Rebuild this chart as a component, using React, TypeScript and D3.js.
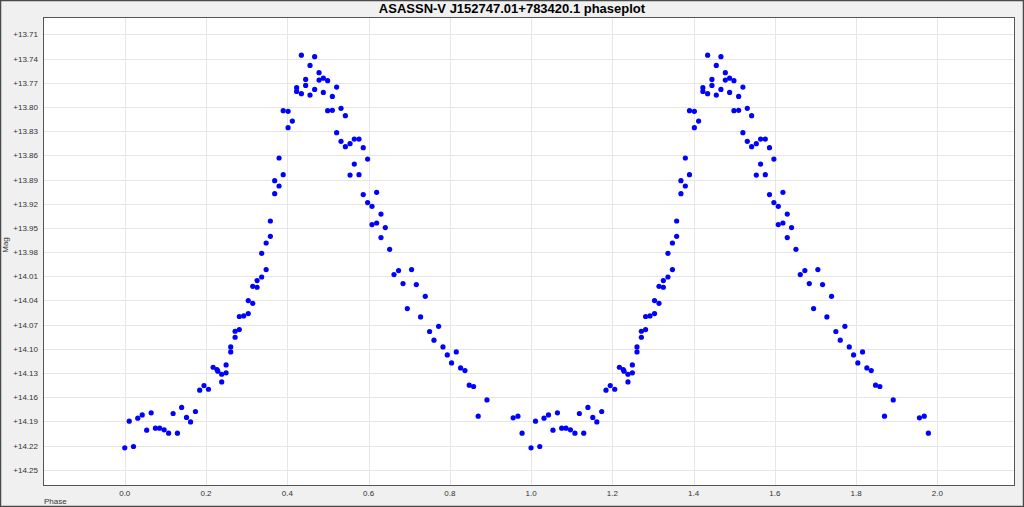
import React from "react";
import * as d3 from "d3";

const TITLE = "ASASSN-V J152747.01+783420.1 phaseplot";
const X_LABEL = "Phase";
const Y_LABEL = "Mag";

// phase in [0,1) of each observation
const phases: number[] = [
  0.0, 0.011, 0.0215, 0.032, 0.043, 0.054, 0.065, 0.0755, 0.086, 0.097,
  0.108, 0.119, 0.1297, 0.14, 0.152, 0.162, 0.174, 0.1845, 0.195, 0.206,
  0.2175, 0.227, 0.229, 0.2386, 0.2386, 0.2494, 0.2494, 0.2608, 0.2608, 0.2716,
  0.2716, 0.282, 0.282, 0.2928, 0.304, 0.304, 0.315, 0.315, 0.3257, 0.3257,
  0.337, 0.337, 0.348, 0.348, 0.3584, 0.3584, 0.369, 0.369, 0.3798, 0.3798,
  0.39, 0.39, 0.402, 0.402, 0.4125, 0.423, 0.423, 0.4347, 0.4347, 0.4453,
  0.4453, 0.456, 0.456, 0.4674, 0.4674, 0.4782, 0.4782, 0.4888, 0.4888, 0.4994,
  0.4994, 0.511, 0.511, 0.5215, 0.5215, 0.5323, 0.5323, 0.543, 0.543, 0.5545,
  0.5545, 0.565, 0.565, 0.5766, 0.5766, 0.587, 0.587, 0.5978, 0.5978, 0.6086,
  0.6086, 0.62, 0.62, 0.6307, 0.6307, 0.6413, 0.652, 0.6627, 0.674, 0.6849,
  0.6955, 0.706, 0.7176, 0.7282, 0.7397, 0.7503, 0.7611, 0.7725, 0.7833, 0.7939,
  0.8044, 0.816, 0.8266, 0.8374, 0.848, 0.8586, 0.87, 0.8915, 0.956, 0.9678,
  0.978,
];

// magnitude of each observation
const mags: number[] = [
  14.2228, 14.1897, 14.2211, 14.186, 14.1819, 14.2009, 14.1794, 14.1984, 14.1984, 14.2005,
  14.2046, 14.1802, 14.2046, 14.1727, 14.1851, 14.1906, 14.1777, 14.1513, 14.1455, 14.1501,
  14.1228, 14.1257, 14.1277, 14.1315, 14.141, 14.1199, 14.1298, 14.0976, 14.1038, 14.0782,
  14.0856, 14.0761, 14.0599, 14.0592, 14.0562, 14.0401, 14.0435, 14.0224, 14.0236, 14.0153,
  14.0109, 13.9815, 14.0017, 13.9687, 13.9604, 13.9414, 13.9075, 13.8914, 13.898, 13.8633,
  13.8839, 13.8046, 13.8054, 13.8257, 13.8175, 13.7761, 13.7807, 13.7357, 13.7835, 13.7658,
  13.7732, 13.7484, 13.7852, 13.7376, 13.7782, 13.7575, 13.7666, 13.7642, 13.7819, 13.7674,
  13.8046, 13.7869, 13.8042, 13.7753, 13.8319, 13.8017, 13.8426, 13.8108, 13.8492, 13.8455,
  13.8844, 13.8398, 13.8708, 13.8398, 13.8839, 13.8505, 13.9087, 13.8646, 13.9186, 13.9232,
  13.9459, 13.9059, 13.9439, 13.9328, 13.962, 13.9496, 13.9765, 14.0079, 14.0029, 14.019,
  14.05, 14.0017, 14.0203, 14.0604, 14.0348, 14.0785, 14.0893, 14.072, 14.0976, 14.1075,
  14.1175, 14.1038, 14.1237, 14.1269, 14.1451, 14.1467, 14.1835, 14.1633, 14.1856, 14.1835,
  14.2046,
];

// phase cycles drawn (the light curve is repeated once)
const cycles: number[] = [0, 1];

const xTicks: number[] = [0, 0.2, 0.4, 0.6, 0.8, 1.0, 1.2, 1.4, 1.6, 1.8, 2.0];
const yTicks: number[] = [
  13.71, 13.74, 13.77, 13.8, 13.83, 13.86, 13.89, 13.92, 13.95, 13.98,
  14.01, 14.04, 14.07, 14.1, 14.13, 14.16, 14.19, 14.22, 14.25,
];

const X_DOMAIN: [number, number] = [-0.2, 2.19];
const Y_DOMAIN: [number, number] = [13.689, 14.2695];

export default function App() {
  const W = 1024;
  const H = 507;
  const plot = { left: 43.5, top: 17.5, right: 1014.5, bottom: 485.5 };

  const x = d3.scaleLinear().domain(X_DOMAIN).range([plot.left, plot.right]);
  const y = d3.scaleLinear().domain(Y_DOMAIN).range([plot.top, plot.bottom]);

  const points = cycles.flatMap((c) =>
    phases.map((p, i) => ({ p: p + c, m: mags[i] }))
  );

  const font = "'Liberation Sans', Arial, sans-serif";

  return (
    <svg
      width={W}
      height={H}
      style={{ position: "absolute", left: 0, top: 0, display: "block" }}
    >
      <rect x={0} y={0} width={W} height={H} fill="#f0f0f0" />
      <rect x={0.5} y={0.5} width={W - 1} height={H - 1} fill="none" stroke="#4a4a4a" strokeWidth={1.5} />
      <text
        x={W / 2}
        y={13}
        textAnchor="middle"
        fontFamily={font}
        fontWeight="bold"
        fontSize={13}
        fill="#000"
      >
        {TITLE}
      </text>
      <rect
        x={plot.left}
        y={plot.top}
        width={plot.right - plot.left}
        height={plot.bottom - plot.top}
        fill="#ffffff"
      />
      {xTicks.map((t) => (
        <line
          key={"gx" + t}
          x1={Math.round(x(t)) + 0.5}
          x2={Math.round(x(t)) + 0.5}
          y1={plot.top}
          y2={plot.bottom}
          stroke="#e6e6e6"
          strokeWidth={1}
        />
      ))}
      {yTicks.map((t) => (
        <line
          key={"gy" + t}
          x1={plot.left}
          x2={plot.right}
          y1={Math.round(y(t)) + 0.5}
          y2={Math.round(y(t)) + 0.5}
          stroke="#e6e6e6"
          strokeWidth={1}
        />
      ))}
      {points.map((d, i) => (
        <circle key={i} cx={x(d.p)} cy={y(d.m)} r={2.6} fill="#0000ff" />
      ))}
      <rect
        x={plot.left}
        y={plot.top}
        width={plot.right - plot.left}
        height={plot.bottom - plot.top}
        fill="none"
        stroke="#555555"
        strokeWidth={1}
      />
      {yTicks.map((t) => (
        <text
          key={"ty" + t}
          x={38}
          y={y(t) + 3}
          textAnchor="end"
          fontFamily={font}
          fontSize={8}
          fill="#333"
        >
          {"+" + t.toFixed(2)}
        </text>
      ))}
      {xTicks.map((t) => (
        <text
          key={"tx" + t}
          x={x(t)}
          y={496}
          textAnchor="middle"
          fontFamily={font}
          fontSize={8}
          fill="#333"
        >
          {t.toFixed(1)}
        </text>
      ))}
      <text
        transform={`translate(8,245) rotate(-90)`}
        textAnchor="middle"
        fontFamily={font}
        fontSize={8}
        fill="#333"
      >
        {Y_LABEL}
      </text>
      <text x={44} y={504} fontFamily={font} fontSize={8} fill="#333">
        {X_LABEL}
      </text>
    </svg>
  );
}
